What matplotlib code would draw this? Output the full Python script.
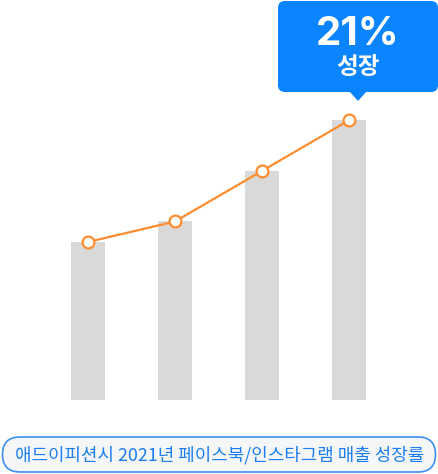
import matplotlib
matplotlib.use("Agg")
import matplotlib.pyplot as plt
from matplotlib.patches import FancyBboxPatch, Polygon

plt.rcParams['font.family'] = ['Noto Sans CJK KR', 'DejaVu Sans']

# data (relative sales, first bar = 100)
periods = ['1', '2', '3', '4']
sales = [100, 113, 145, 177]
growth = 21
caption = '애드이피션시 2021년 페이스북/인스타그램 매출 성장률'

bar_color = '#d9d9d9'
line_color = '#ff8c2e'
blue = '#0a84ff'

W, H = 439, 474
fig = plt.figure(figsize=(W / 100, H / 100), dpi=100)

# main chart axes: baseline at 400px from top
ax = fig.add_axes([0, (H - 400) / H, 1, 400 / H])
x = list(range(len(sales)))
ax.bar(x, sales, width=34 / 87, color=bar_color, zorder=1)
ax.plot(x, sales, color=line_color, lw=1.6, marker='o', ms=8.5,
        mfc='white', mec=line_color, mew=1.6, zorder=3)
ax.set_xlim(-88 / 87, (W - 88) / 87)
ax.set_ylim(0, 100 * 400 / 158)
ax.axis('off')

# overlay in pixel coords for callout and caption pill
ov = fig.add_axes([0, 0, 1, 1])
ov.set_xlim(0, W)
ov.set_ylim(H, 0)
ov.axis('off')

box = FancyBboxPatch((278, 1), 160, 91, boxstyle='round,pad=0,rounding_size=7',
                     fc=blue, ec='none')
ov.add_patch(box)
ov.add_patch(Polygon([(349, 91), (367, 91), (358, 101)], closed=True,
                     fc=blue, ec='none'))
ov.text(358, 34, f'{growth}%', color='white', fontsize=29, fontweight='bold',
        ha='center', va='center', family=['Inter', 'DejaVu Sans'])
ov.text(358, 67, '성장', color='white', fontsize=17, fontweight='bold',
        ha='center', va='center')

pill = FancyBboxPatch((2.5, 437), 433, 35, boxstyle='round,pad=0,rounding_size=17.5',
                      fc='#f5f6f8', ec='#3d8ff0', lw=1.2)
ov.add_patch(pill)
ov.text(219.5, 455, caption, color='#1a7ef0', fontsize=12.9, fontweight='medium',
        ha='center', va='center')

fig.savefig('out.png', dpi=100)
